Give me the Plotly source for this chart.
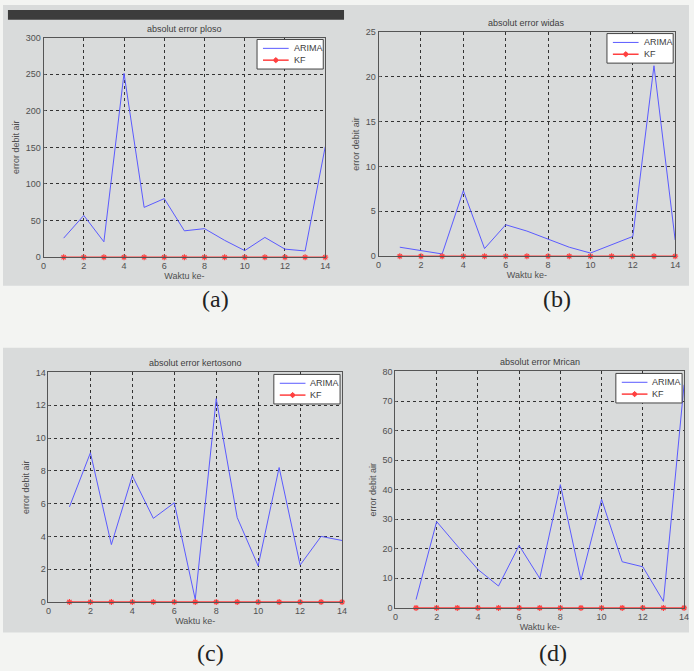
import plotly.graph_objects as go

# Time steps and absolute errors of discharge forecasts
waktu = list(range(1, 15))

ploso_arima = [26, 57, 21, 251, 68, 80, 36, 39, 23, 9, 27, 11, 8.5, 151]
ploso_kf = [0] * 14

widas_arima = [1.0, 0.6, 0.25, 7.3, 0.85, 3.5, 2.8, 1.9, 1.0, 0.35, 1.3, 2.2, 21.2, 1.8]
widas_kf = [0] * 14

kertosono_arima = [5.8, 9.1, 3.5, 7.7, 5.1, 6.05, 0.15, 12.4, 5.15, 2.2, 8.2, 2.25, 4.0, 3.75]
kertosono_kf = [0] * 14

mrican_arima = [2.8, 29.2, 21, 13, 7.4, 21.1, 10, 41.7, 9.4, 36.7, 15.6, 13.9, 2.2, 75.5]
mrican_kf = [0] * 14

series_names = ["ARIMA", "KF"]
titles = ["absolut error ploso", "absolut error widas",
          "absolut error kertosono", "absolut error Mrican"]
panel_labels = ["(a)", "(b)", "(c)", "(d)"]
x_ticks = [0, 2, 4, 6, 8, 10, 12, 14]

W, H = 694, 671
ARIMA_COLOR = "#5a5aff"
KF_COLOR = "#ff4040"
FONT = "Liberation Sans, Arial"


def px(x):
    return x / W


def py(y):
    return 1 - y / H


# plot boxes in pixels: left, top, right, bottom
panels = [
    dict(arima=ploso_arima, kf=ploso_kf, yrange=[0, 300], dtick=50, box=(41, 33, 326, 256)),
    dict(arima=widas_arima, kf=widas_kf, yrange=[0, 25], dtick=5, box=(380, 27, 680, 255)),
    dict(arima=kertosono_arima, kf=kertosono_kf, yrange=[0, 14], dtick=2, box=(46, 373, 343, 606)),
    dict(arima=mrican_arima, kf=mrican_kf, yrange=[0, 80], dtick=10, box=(397, 372, 689, 612)),
]

fig = go.Figure()
tick_font = dict(family=FONT, size=9, color="#505050")
shapes = [
    # grey bands behind each row and the dark strip on top
    dict(type="rect", xref="paper", yref="paper", x0=0, x1=1, y0=py(285), y1=1,
         fillcolor="#d9dbdb", line=dict(width=0), layer="below"),
    dict(type="rect", xref="paper", yref="paper", x0=0, x1=1, y0=py(637), y1=py(348),
         fillcolor="#d9dbdb", line=dict(width=0), layer="below"),
    dict(type="rect", xref="paper", yref="paper", x0=px(5), x1=px(345), y0=py(15), y1=py(5),
         fillcolor="#3c3c3c", line=dict(width=0), layer="below"),
]
annotations = []

for i, p in enumerate(panels):
    n = "" if i == 0 else str(i + 1)
    l, t, r, b = p["box"]
    fig.add_trace(go.Scatter(
        x=waktu, y=p["arima"], mode="lines", name=series_names[0],
        line=dict(color=ARIMA_COLOR, width=1),
        xaxis=f"x{n}", yaxis=f"y{n}", showlegend=False))
    fig.add_trace(go.Scatter(
        x=waktu, y=p["kf"], mode="lines+markers", name=series_names[1],
        line=dict(color=KF_COLOR, width=1.5),
        marker=dict(symbol="asterisk-open", size=5, color=KF_COLOR,
                    line=dict(color=KF_COLOR, width=1.2)),
        cliponaxis=False,
        xaxis=f"x{n}", yaxis=f"y{n}", showlegend=False))

    axis_common = dict(showline=True, mirror=True, linecolor="#555555", linewidth=1,
                       ticks="inside", ticklen=2, tickcolor="#666666",
                       showgrid=True, gridcolor="#333333", griddash="dot", gridwidth=1,
                       zeroline=False, tickfont=tick_font)
    fig.update_layout(**{
        f"xaxis{n}": dict(domain=[px(l), px(r)], anchor=f"y{n}", range=[0, 14],
                          tickvals=x_ticks,
                          title=dict(text="Waktu ke-", standoff=2,
                                     font=dict(family=FONT, size=9, color="#505050")),
                          **axis_common),
        f"yaxis{n}": dict(domain=[py(b), py(t)], anchor=f"x{n}", range=p["yrange"],
                          dtick=p["dtick"],
                          title=dict(text="error debit air", standoff=4,
                                     font=dict(family=FONT, size=9, color="#505050")),
                          **axis_common),
    })

    # subplot title
    annotations.append(dict(text=titles[i], xref="paper", yref="paper",
                            x=px((l + r) / 2), y=py(t - 2),
                            xanchor="center", yanchor="bottom", showarrow=False,
                            font=dict(family=FONT, size=9, color="#404040")))

    # compact legend box in the upper right corner
    lr, lt = r - 2, t + 2
    ll, lb = lr - 67, lt + 30
    shapes.append(dict(type="rect", xref="paper", yref="paper",
                       x0=px(ll), x1=px(lr), y0=py(lb), y1=py(lt),
                       fillcolor="white", line=dict(color="#444444", width=1)))
    rows = [lt + 9, lt + 21]
    for k, (name, color) in enumerate(zip(series_names, [ARIMA_COLOR, KF_COLOR])):
        yy = rows[k]
        shapes.append(dict(type="line", xref="paper", yref="paper",
                           x0=px(ll + 6), x1=px(ll + 32), y0=py(yy), y1=py(yy),
                           line=dict(color=color, width=1 if k == 0 else 1.5)))
        annotations.append(dict(text=name, xref="paper", yref="paper",
                                x=px(ll + 35), y=py(yy), xanchor="left", yanchor="middle",
                                showarrow=False,
                                font=dict(family=FONT, size=9, color="#404040")))
    # KF marker sample
    cx, cy = ll + 19, rows[1]
    shapes.append(dict(type="circle", xref="paper", yref="paper",
                       x0=px(cx - 2), x1=px(cx + 2), y0=py(cy + 2), y1=py(cy - 2),
                       fillcolor=KF_COLOR, line=dict(color=KF_COLOR, width=1)))
    shapes.append(dict(type="line", xref="paper", yref="paper",
                       x0=px(cx), x1=px(cx), y0=py(cy + 3), y1=py(cy - 3),
                       line=dict(color=KF_COLOR, width=1)))

# panel captions
caption_pos = [(215, 298), (560, 298), (210, 658), (556, 658)]
for (cx, cy), lab in zip(caption_pos, panel_labels):
    annotations.append(dict(text=lab, xref="paper", yref="paper",
                            x=px(cx), y=py(cy), xanchor="center", yanchor="middle",
                            showarrow=False,
                            font=dict(family="Liberation Serif, Times New Roman", size=24,
                                      color="#222222")))

fig.update_layout(
    width=W, height=H,
    margin=dict(l=0, r=0, t=0, b=0),
    paper_bgcolor="#f3f4f2",
    plot_bgcolor="#fbfbfb",
    shapes=shapes,
    annotations=annotations,
    showlegend=False,
)

fig.write_html("out.html")
